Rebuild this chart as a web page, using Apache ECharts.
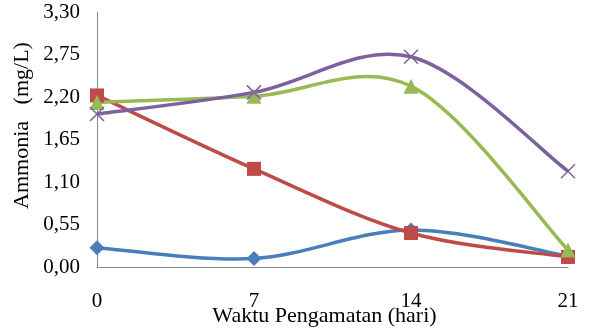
<!DOCTYPE html>
<html><head><meta charset="utf-8">
<script src="https://cdn.jsdelivr.net/npm/echarts@6/dist/echarts.min.js"></script>
<style>html,body{margin:0;padding:0;background:#fff}#c{width:589px;height:336px}</style>
</head><body><div id="c"></div>
<script>
const days = [0, 7, 14, 21];
const blue = [0.25, 0.11, 0.48, 0.14];
const red = [2.22, 1.27, 0.44, 0.13];
const green = [2.13, 2.21, 2.34, 0.22];
const purple = [1.98, 2.26, 2.72, 1.24];
const yTicks = ['0,00','0,55','1,10','1,65','2,20','2,75','3,30'];

const font = 'Liberation Serif';

// Smooth line (Catmull-Rom style Bezier, like spreadsheet smoothing), positioned via the axes
function curve(vals, color) {
  return {
    type: 'custom', data: days.map((d, i) => [d, vals[i]]),
    encode: {x: 0, y: 1}, silent: true,
    renderItem: function (params, api) {
      if (params.dataIndex !== 0) return {type: 'group', children: []};
      const p = days.map((d, i) => api.coord([d, vals[i]]));
      const n = p.length;
      let d = 'M' + p[0][0] + ' ' + p[0][1];
      for (let i = 0; i < n - 1; i++) {
        const p0 = p[Math.max(i - 1, 0)], p1 = p[i], p2 = p[i + 1], p3 = p[Math.min(i + 2, n - 1)];
        const c1 = [p1[0] + (p2[0] - p0[0]) / 6, p1[1] + (p2[1] - p0[1]) / 6];
        const c2 = [p2[0] - (p3[0] - p1[0]) / 6, p2[1] - (p3[1] - p1[1]) / 6];
        d += ' C' + c1[0] + ' ' + c1[1] + ' ' + c2[0] + ' ' + c2[1] + ' ' + p2[0] + ' ' + p2[1];
      }
      return {type: 'path', shape: {pathData: d}, style: {stroke: color, lineWidth: 3.5, fill: 'none', lineJoin: 'round'}};
    }
  };
}
function marks(vals, color, symbol, size, extra) {
  return {
    type: 'scatter', data: days.map((d, i) => [d, vals[i]]),
    symbol, symbolSize: size, silent: true,
    itemStyle: Object.assign({color, opacity: 1}, extra || {}),
    emphasis: {disabled: true}
  };
}
const chart = echarts.init(document.getElementById('c'));
chart.setOption({
  animation: false,
  grid: {left: 97, right: 21, top: 12, bottom: 69, containLabel: false, outerBoundsMode: 'none'},
  xAxis: {
    type: 'value', min: 0, max: 21, interval: 7,
    axisLine: {lineStyle: {color: '#888', width: 1}},
    axisTick: {show: false}, splitLine: {show: false},
    axisLabel: {color: '#000', fontFamily: font, fontSize: 21, margin: 24},
    name: 'Waktu Pengamatan (hari)', nameLocation: 'middle', nameGap: 38, nameMoveOverlap: false,
    nameTextStyle: {color: '#000', fontFamily: font, fontSize: 22, padding: [0, 16, 0, 0]}
  },
  yAxis: {
    type: 'value', min: 0, max: 3.3, interval: 0.55,
    axisLine: {show: true, lineStyle: {color: '#888', width: 1}},
    axisTick: {show: false}, splitLine: {show: false},
    axisLabel: {color: '#000', fontFamily: font, fontSize: 21, margin: 17,
      formatter: (v) => yTicks[Math.round(v / 0.55)]},
    name: 'Ammonia   (mg/L)', nameLocation: 'middle', nameGap: 64, nameRotate: 90, nameMoveOverlap: false,
    nameTextStyle: {color: '#000', fontFamily: font, fontSize: 22, padding: [0, 0, 0, 28]}
  },
  series: [
    curve(blue, '#4a7ebb'), marks(blue, '#4a7ebb', 'diamond', 15),
    curve(red, '#be4b48'), marks(red, '#be4b48', 'rect', 14),
    curve(green, '#98b954'), marks(green, '#98b954', 'triangle', 15),
    curve(purple, '#7d60a0'),
    marks(purple, '#7d60a0', 'path://M0,0L10,10M10,0L0,10', 14, {borderColor: '#7d60a0', borderWidth: 1.5})
  ]
});
</script></body></html>
